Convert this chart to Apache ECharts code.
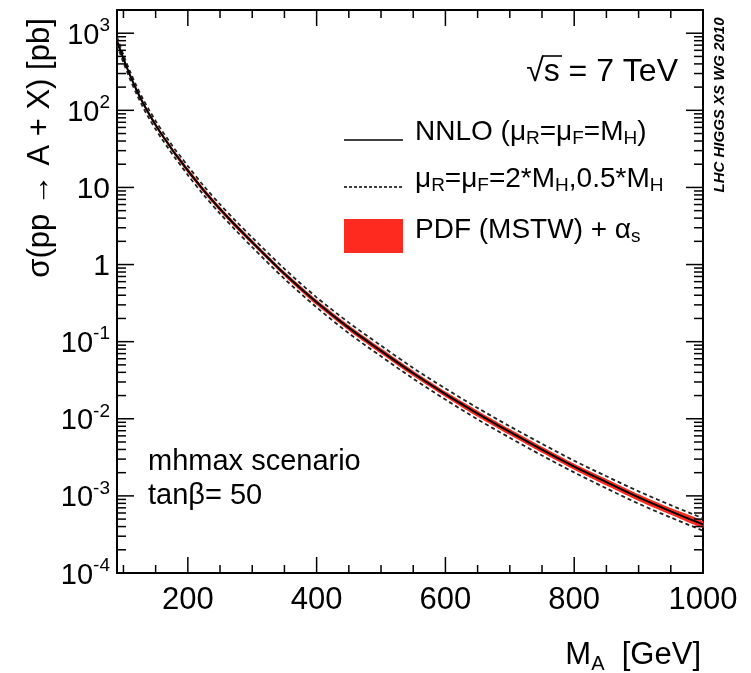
<!DOCTYPE html>
<html><head><meta charset="utf-8">
<script src="https://cdn.jsdelivr.net/npm/echarts@6/dist/echarts.min.js"></script>
<style>html,body{margin:0;padding:0;background:#fff}#c{width:751px;height:673px}</style>
</head><body><div id="c"></div>
<script>
// ---- data ----
const massGeV = [90,100,110,120,130,140,150,160,170,180,190,200,225,250,275,300,350,400,450,500,550,600,650,700,750,800,850,900,950,1000];
const sigmaNNLO = [794,468,288,186,126,89.1,64.6,47.9,36.3,27.5,21.4,16.6,9.12,5.25,3.16,1.95,0.759,0.324,0.151,0.0759,0.0389,0.0209,0.0117,0.00676,0.00398,0.00240,0.00151,0.000955,0.000631,0.000427];
const scaleUpPct   = [12,12,12,12,13,13,13,13,13,13,14,14,14,15,15,15,16,16,17,17,17,18,18,18,19,19,19,20,20,20];
const scaleDownPct = [11,11,11,11,12,12,12,12,12,12,12,13,13,13,13,14,14,14,15,15,15,15,16,16,16,16,17,17,17,17];
const pdfUpPct     = [6,6,6,6,6,6,6,6,6,6,7,7,7,7,7,7,7,8,8,8,8,8,9,9,9,9,10,10,10,10];
const pdfDownPct   = [6,6,6,6,6,6,6,6,6,6,7,7,7,7,7,7,7,8,8,8,8,8,9,9,9,9,10,10,10,10];
const xMajorTicks = [200,400,600,800,1000];
const xMinorTicks = [100,150,250,300,350,450,500,550,650,700,750,850,900,950];
const yDecades = [1e-4,1e-3,1e-2,1e-1,1,10,100,1000];
const xRange = [90,1000];
const yRange = [1e-4,2000];

const yMinorTicks = [];
yDecades.forEach(d => { for (let k = 2; k <= 9; k++) { const v = +(k*d).toPrecision(3); if (v < yRange[1]) yMinorTicks.push(v); } });

const FONT = 'Liberation Sans, Arial, sans-serif';
const scaleUp = massGeV.map((m,i)=>[m, sigmaNNLO[i]*(1+scaleUpPct[i]/100)]);
const scaleDn = massGeV.map((m,i)=>[m, sigmaNNLO[i]*(1-scaleDownPct[i]/100)]);
const central = massGeV.map((m,i)=>[m, sigmaNNLO[i]]);

const chart = echarts.init(document.getElementById('c'));
const gridPos = {left:117, right:48, top:10, bottom:100};
function axLine(){ return {show:true, lineStyle:{color:'#000', width:2}}; }

function yLabel(v){
  const e = Math.round(Math.log10(v));
  if (e === 0) return '{p|1}';
  if (e === 1) return '{p|10}';
  return '{b|10}{s|' + e + '}';
}
const yRich = {
  p:{fontSize:30, fontFamily:FONT, color:'#000', lineHeight:34, verticalAlign:'bottom'},
  b:{fontSize:29, fontFamily:FONT, color:'#000', lineHeight:34, verticalAlign:'bottom'},
  s:{fontSize:19, fontFamily:FONT, color:'#000', lineHeight:20, verticalAlign:'top'}
};

// inward ticks on all four sides, placed through api.coord of the axes (own canvas layer)
function tickRender(params, api){
  const left = api.coord([xRange[0], 1])[0], right = api.coord([xRange[1], 1])[0];
  const top = api.coord([500, yRange[1]])[1], bottom = api.coord([500, yRange[0]])[1];
  const ch = [];
  function ln(x1,y1,x2,y2){ ch.push({type:'line', shape:{x1:x1, y1:y1, x2:x2, y2:y2}, style:{stroke:'#000', lineWidth:1.5, opacity:1}}); }
  function xt(v, len){ const px = api.coord([v, 1])[0]; ln(px, bottom, px, bottom-len); ln(px, top, px, top+len); }
  function yt(v, len){ const py = api.coord([500, v])[1]; ln(left, py, left+len, py); ln(right, py, right-len, py); }
  xMajorTicks.forEach(v => xt(v, 16));
  xMinorTicks.forEach(v => xt(v, 8));
  yDecades.forEach(v => yt(v, 17));
  yMinorTicks.forEach(v => yt(v, 9));
  return {type:'group', children:ch};
}

function lgSub(pad){
  return {b:{fontSize:28, fontFamily:FONT, fill:'#000', lineHeight:30, verticalAlign:'top'},
          sub:{fontSize:19, fontFamily:FONT, fill:'#000', lineHeight:19, padding:[pad,0,0,0], verticalAlign:'bottom'}};
}

chart.setOption({
  animation:false,
  grid:[Object.assign({}, gridPos)],
  xAxis:[
    {gridIndex:0, type:'value', position:'bottom', min:xRange[0], max:xRange[1], axisLine:axLine(), splitLine:{show:false},
     axisTick:{show:false},
     axisLabel:{customValues:xMajorTicks.slice(), formatter:function(v){return String(v);}, fontSize:31, fontFamily:FONT, color:'#000', margin:12}},
    {gridIndex:0, type:'value', position:'top', min:xRange[0], max:xRange[1], axisLine:axLine(), splitLine:{show:false},
     axisTick:{show:false}, axisLabel:{show:false}}
  ],
  yAxis:[
    {gridIndex:0, type:'log', logBase:10, position:'left', min:yRange[0], max:yRange[1], axisLine:axLine(), splitLine:{show:false},
     axisTick:{show:false},
     axisLabel:{customValues:yDecades.slice(), formatter:yLabel, rich:yRich, margin:7}},
    {gridIndex:0, type:'log', logBase:10, position:'right', min:yRange[0], max:yRange[1], axisLine:axLine(), splitLine:{show:false},
     axisTick:{show:false}, axisLabel:{show:false}}
  ],
  series:[
    {type:'custom', name:'PDF (MSTW) + αs', xAxisIndex:0, yAxisIndex:0, silent:true, z:2,
     data:[central[0]],
     renderItem:function(params, api){
       const pts = [];
       for (let i=0;i<massGeV.length;i++) pts.push(api.coord([massGeV[i], sigmaNNLO[i]*(1+pdfUpPct[i]/100)]));
       for (let i=massGeV.length-1;i>=0;i--) pts.push(api.coord([massGeV[i], sigmaNNLO[i]*(1-pdfDownPct[i]/100)]));
       return {type:'polygon', shape:{points:pts, smooth:0.2}, style:{fill:'#ff2a1f'}};
     }},
    {type:'line', name:'scale up', xAxisIndex:0, yAxisIndex:0, data:scaleUp, showSymbol:false, symbol:'none', smooth:0.3, z:3,
     lineStyle:{color:'#222', width:1.8, type:[4,3]}},
    {type:'line', name:'scale down', xAxisIndex:0, yAxisIndex:0, data:scaleDn, showSymbol:false, symbol:'none', smooth:0.3, z:3,
     lineStyle:{color:'#222', width:1.8, type:[4,3]}},
    {type:'line', name:'NNLO', xAxisIndex:0, yAxisIndex:0, data:central, showSymbol:false, symbol:'none', smooth:0.3, z:4,
     lineStyle:{color:'#000', width:2}},
    {type:'custom', name:'ticks', xAxisIndex:0, yAxisIndex:0, silent:true, clip:false, zlevel:1, z:50,
     data:[[500, 1]], renderItem:tickRender}
  ],
  graphic:[
    {type:'text', x:40, y:148, rotation:Math.PI/2,
     style:{text:'σ(pp → A + X) [pb]', font:'31px '+FONT, fill:'#000', align:'center', verticalAlign:'middle'}},
    {type:'text', x:701, y:657,
     style:{text:'{b|M}{sub|A}{b|  [GeV]}', align:'right', verticalAlign:'middle',
       rich:{b:{fontSize:31, fontFamily:FONT, fill:'#000', lineHeight:34, verticalAlign:'top'},
             sub:{fontSize:20, fontFamily:FONT, fill:'#000', lineHeight:20, padding:[24,0,0,0], verticalAlign:'bottom'}}}},
    {type:'text', x:678, y:72,
     style:{text:'√s = 7 TeV', font:'32px '+FONT, fill:'#000', align:'right', verticalAlign:'middle'}},
    {type:'line', shape:{x1:542, y1:56, x2:562, y2:56}, style:{stroke:'#000', lineWidth:1.6}},
    {type:'line', shape:{x1:344, y1:140, x2:403, y2:140}, style:{stroke:'#000', lineWidth:1.6}},
    {type:'text', x:415, y:133,
     style:{text:'{b|NNLO (μ}{sub|R}{b|=μ}{sub|F}{b|=M}{sub|H}{b|)}', align:'left', verticalAlign:'middle', rich:lgSub(22)}},
    {type:'line', shape:{x1:344, y1:187, x2:403, y2:187}, style:{stroke:'#000', lineWidth:1.3, lineDash:[3,2]}},
    {type:'text', x:415, y:180,
     style:{text:'{b|μ}{sub|R}{b|=μ}{sub|F}{b|=2*M}{sub|H}{b|,0.5*M}{sub|H}', align:'left', verticalAlign:'middle', rich:lgSub(22)}},
    {type:'rect', shape:{x:344, y:219, width:59, height:34}, style:{fill:'#ff2a1f'}},
    {type:'text', x:415, y:231,
     style:{text:'{b|PDF (MSTW) + α}{sub|s}', align:'left', verticalAlign:'middle', rich:lgSub(14)}},
    {type:'text', x:148, y:462,
     style:{text:'mhmax scenario', font:'29px '+FONT, fill:'#000', align:'left', verticalAlign:'middle'}},
    {type:'text', x:148, y:496,
     style:{text:'tanβ= 50', font:'29px '+FONT, fill:'#000', align:'left', verticalAlign:'middle'}},
    {type:'text', x:720, y:105, rotation:Math.PI/2,
     style:{text:'LHC HIGGS XS WG 2010', font:'italic bold 15px '+FONT, fill:'#000', align:'center', verticalAlign:'middle'}}
  ]
});
</script>
</body></html>
